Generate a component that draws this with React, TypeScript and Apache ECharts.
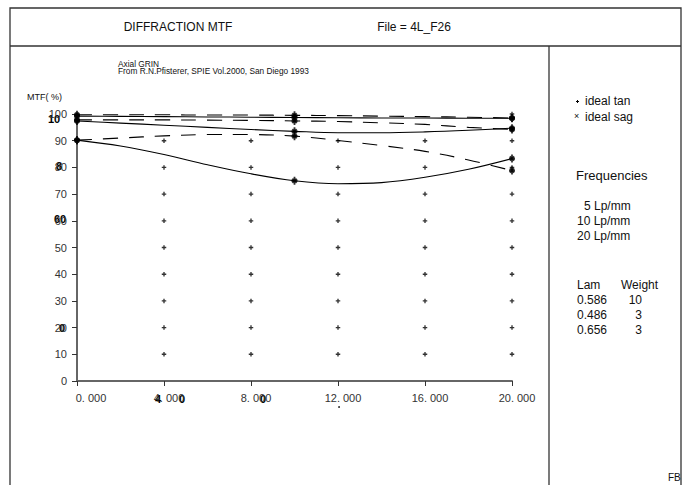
import React, { useEffect, useRef } from "react";
import * as echarts from "echarts";

// ---- data ----
const freqX = [0, 2, 4, 6, 8, 10, 12, 14, 16, 18, 20];
const solidTop = [99.2, 99.1, 99.0, 98.9, 98.8, 98.7, 98.6, 98.5, 98.5, 98.4, 98.4];
const solidMid = [97.4, 96.6, 95.8, 95.0, 94.2, 93.5, 93.0, 93.0, 93.3, 93.9, 94.7];
const solidLow = [90.2, 88.0, 84.8, 81.0, 77.6, 75.0, 73.9, 74.3, 76.3, 79.3, 83.3];
const dashTop = [99.7, 99.7, 99.7, 99.6, 99.6, 99.5, 99.4, 99.2, 99.0, 98.8, 98.5];
const dashMid = [97.8, 97.8, 97.8, 97.7, 97.6, 97.4, 97.2, 96.7, 96.1, 95.0, 94.2];
const dashLow = [90.2, 91.0, 91.8, 92.3, 92.3, 91.7, 90.1, 88.2, 86.0, 82.8, 78.8];
const markerIdx = [0, 5, 10]; // field sample points at 0, 10, 20
const gridDotX = [4, 8, 12, 16, 20];
const gridDotY = [10, 20, 30, 40, 50, 60, 70, 80, 90];
const topDotX = [16, 20];
const topDotY = [100.5, 100];
const xTicks = [0, 4, 8, 12, 16, 20];
const yTicks = [0, 10, 20, 30, 40, 50, 60, 70, 80, 90, 100];
const legendItems = ["ideal tan", "ideal sag"];
const frequencies = ["5 Lp/mm", "10 Lp/mm", "20 Lp/mm"];
const lams = ["0.586", "0.486", "0.656"];
const weights = ["10", "3", "3"];

const FONT = "'Liberation Sans', Arial, sans-serif";
const PLUS = "path://M3.5,0H6.5V3.5H10V6.5H6.5V10H3.5V6.5H0V3.5H3.5Z";

export default function App() {
  const ref = useRef<HTMLDivElement>(null);
  useEffect(() => {
    document.body.style.margin = "0";
    const chart = echarts.init(ref.current!, null, { renderer: "svg" });
    const pts = (arr: number[]) => freqX.map((x, i) => [x, arr[i]]);
    const curves = [
      { d: solidTop, dash: false },
      { d: solidMid, dash: false },
      { d: solidLow, dash: false },
      { d: dashTop, dash: true },
      { d: dashMid, dash: true },
      { d: dashLow, dash: true },
    ];
    const lineSeries = curves.map((c) => ({
      type: "line",
      data: pts(c.d),
      smooth: 0.35,
      showSymbol: false,
      silent: true,
      lineStyle: { color: "#000", width: 1.1, type: c.dash ? [15, 11] : "solid" },
    }));
    const markerData: number[][] = [];
    curves.forEach((c) => markerIdx.forEach((i) => markerData.push([freqX[i], c.d[i]])));
    const gridDots: number[][] = [];
    gridDotX.forEach((x) => gridDotY.forEach((y) => gridDots.push([x, y])));
    topDotX.forEach((x, i) => gridDots.push([x, topDotY[i]]));

    const t = (x: number, y: number, text: string, size = 12, extra: any = {}) => ({
      type: "text",
      x,
      y,
      style: { text, fontSize: size, fontFamily: FONT, fill: "#111", ...extra },
    });
    const bold = { fontWeight: "bold", fill: "#000" };

    const graphics: any[] = [
      { type: "rect", shape: { x: 10, y: 8, width: 671, height: 490 }, style: { fill: "none", stroke: "#333", lineWidth: 1.3 } },
      { type: "line", shape: { x1: 10, y1: 46, x2: 681, y2: 46 }, style: { stroke: "#333", lineWidth: 1.3 } },
      { type: "line", shape: { x1: 549, y1: 46, x2: 549, y2: 490 }, style: { stroke: "#333", lineWidth: 1.3 } },
      t(178, 27, "DIFFRACTION MTF", 12, { align: "center", verticalAlign: "middle" }),
      t(414, 27, "File = 4L_F26", 12, { align: "center", verticalAlign: "middle" }),
      t(118, 60, "Axial GRIN", 8.3),
      t(118, 67, "From R.N.Pfisterer, SPIE Vol.2000, San Diego 1993", 8.3),
      t(27, 92, "MTF( %)", 9),
      // legend
      { type: "rect", shape: { x: 576, y: 101, width: 3, height: 1 }, style: { fill: "#000" } },
      { type: "rect", shape: { x: 577, y: 100, width: 1, height: 3 }, style: { fill: "#000" } },
      t(585, 95, legendItems[0], 12),
      t(574, 111, "×", 9),
      t(585, 111, legendItems[1], 12),
      t(576, 169, "Frequencies", 13),
      // bold overprint artefacts of the original plotter
      t(48, 113, "10", 11, bold),
      t(56, 160, "8", 11, bold),
      t(54, 213, "60", 11, bold),
      t(59, 322, "0", 11, bold),
      t(155, 393, "4", 11, bold),
      t(179, 393, "0", 11, bold),
      t(260, 393, "0", 11, bold),
      { type: "circle", shape: { cx: 339, cy: 407, r: 0.8 }, style: { fill: "#000" } },
      t(668, 472, "FB", 10),
    ];
    frequencies.forEach((f, i) => graphics.push(t(f.length < 8 ? 584 : 577, 200 + i * 15, f, 12)));
    graphics.push(t(577, 279, "Lam", 12));
    graphics.push(t(621, 279, "Weight", 12));
    lams.forEach((l, i) => {
      graphics.push(t(577, 294 + i * 15, l, 12));
      graphics.push(t(642, 294 + i * 15, weights[i], 12, { align: "right" }));
    });

    chart.setOption({
      animation: false,
      grid: { left: 77, right: 175, top: 114, bottom: 104 },
      xAxis: {
        type: "value",
        min: 0,
        max: 20,
        interval: 4,
        splitLine: { show: false },
        axisLine: { lineStyle: { color: "#666", width: 2 } },
        axisTick: { length: 5, lineStyle: { color: "#333" } },
        axisLabel: {
          margin: 11,
          fontSize: 11,
          fontFamily: FONT,
          color: "#333",
          formatter: (v: number) => {
            if (!xTicks.includes(v)) return "";
            const s = v.toFixed(3).replace(".", ". ");
            return v === 0 ? `{z|${s}}` : `{n|${s}}`;
          },
          rich: {
            z: { fontSize: 11, fontFamily: FONT, color: "#333", padding: [0, 0, 0, 28] },
            n: { fontSize: 11, fontFamily: FONT, color: "#333", padding: [0, 0, 0, 10] },
          },
        },
      },
      yAxis: {
        type: "value",
        min: 0,
        max: 100,
        interval: 10,
        splitLine: { show: false },
        axisLine: { lineStyle: { color: "#666", width: 2 } },
        axisTick: { length: 5, lineStyle: { color: "#333" } },
        axisLabel: {
          margin: 10,
          fontSize: 11,
          fontFamily: FONT,
          color: "#333",
          formatter: (v: number) => (yTicks.includes(v) ? String(v) : ""),
        },
      },
      series: [
        ...lineSeries,
        {
          type: "scatter",
          data: gridDots,
          symbol: PLUS,
          symbolSize: 4.5,
          silent: true,
          itemStyle: { color: "#000" },
        },
        {
          type: "scatter",
          data: markerData,
          symbol: PLUS,
          symbolSize: [6, 8],
          silent: true,
          itemStyle: { color: "#000" },
        },
        {
          type: "scatter",
          data: markerData,
          symbol: PLUS,
          symbolSize: 6,
          symbolRotate: 45,
          silent: true,
          itemStyle: { color: "#000" },
        },
      ],
      graphic: graphics,
    });
    return () => chart.dispose();
  }, []);
  return <div ref={ref} style={{ width: 687, height: 485 }} />;
}
